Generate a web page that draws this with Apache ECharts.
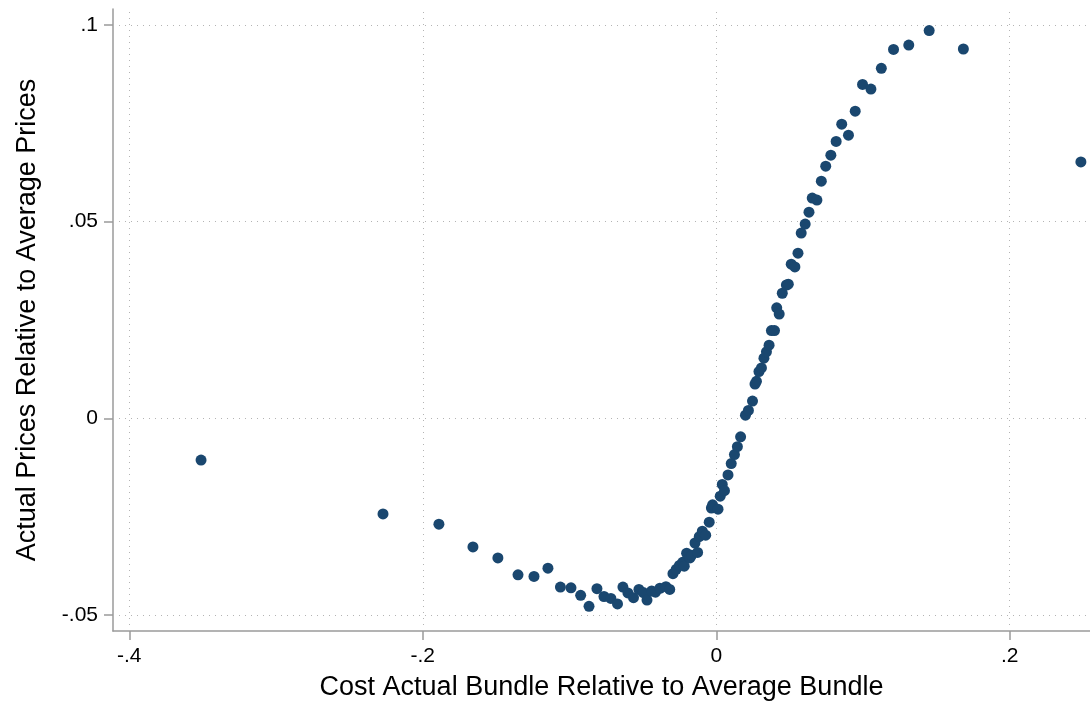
<!DOCTYPE html>
<html>
<head>
<meta charset="utf-8">
<script src="https://cdn.jsdelivr.net/npm/echarts@6/dist/echarts.min.js"></script>
<style>
html,body{margin:0;padding:0;background:#fff;}
#chart{width:1090px;height:708px;}
</style>
</head>
<body>
<div id="chart"></div>
<script>
// Cost of actual bundle relative to average bundle (x)
var costX = [
-0.3511,-0.2271,-0.1890,-0.1658,-0.1488,-0.1351,-0.1242,-0.1147,-0.1062,-0.0990,
-0.0924,-0.0867,-0.0813,-0.0765,-0.0718,-0.0673,-0.0636,-0.0602,-0.0564,-0.0527,
-0.0497,-0.0472,-0.0440,-0.0414,-0.0384,-0.0343,-0.0317,-0.0295,-0.0273,-0.0251,
-0.0229,-0.0218,-0.0202,-0.0179,-0.0168,-0.0145,-0.0127,-0.0116,-0.0095,-0.0072,
-0.0048,-0.0033,-0.0025,0.0012,0.0027,0.0041,0.0056,0.0080,0.0102,0.0124,
0.0144,0.0166,0.0199,0.0219,0.0247,0.0264,0.0274,0.0291,0.0308,0.0325,
0.0342,0.0360,0.0376,0.0397,0.0412,0.0429,0.0450,0.0478,0.0491,0.0511,
0.0536,0.0557,0.0579,0.0606,0.0632,0.0654,0.0686,0.0716,0.0746,0.0781,
0.0817,0.0855,0.0901,0.0947,0.0997,0.1054,0.1125,0.1208,0.1312,0.1451,
0.1684,0.2485
];
// Actual prices relative to average prices (y)
var priceY = [
-0.0106,-0.0243,-0.0269,-0.0327,-0.0355,-0.0398,-0.0402,-0.0381,-0.0429,-0.0431,
-0.0450,-0.0478,-0.0433,-0.0453,-0.0458,-0.0472,-0.0429,-0.0444,-0.0456,-0.0435,
-0.0443,-0.0462,-0.0439,-0.0442,-0.0432,-0.0428,-0.0435,-0.0395,-0.0384,-0.0374,
-0.0366,-0.0376,-0.0343,-0.0355,-0.0348,-0.0317,-0.0341,-0.0301,-0.0287,-0.0297,
-0.0264,-0.0228,-0.0220,-0.0231,-0.0198,-0.0168,-0.0184,-0.0144,-0.0115,-0.0092,
-0.0072,-0.0047,0.0008,0.0020,0.0044,0.0087,0.0094,0.0119,0.0128,0.0153,
0.0169,0.0186,0.0223,0.0223,0.0281,0.0265,0.0318,0.0339,0.0341,0.0392,
0.0385,0.0420,0.0471,0.0494,0.0524,0.0560,0.0555,0.0603,0.0641,0.0669,
0.0704,0.0748,0.0720,0.0781,0.0849,0.0837,0.0890,0.0938,0.0949,0.0986,
0.0939,0.0652
];
var xTicks = [-0.4, -0.2, 0, 0.2];
var xTickLabels = ['-.4', '-.2', '0', '.2'];
var yTicks = [-0.05, 0, 0.05, 0.1];
var yTickLabels = ['-.05', '0', '.05', '.1'];
var xTitle = 'Cost Actual Bundle Relative to Average Bundle';
var yTitle = 'Actual Prices Relative to Average Prices';

var points = costX.map(function (x, i) { return [x, priceY[i]]; });
function labelFor(ticks, labels) {
  return function (v) {
    for (var i = 0; i < ticks.length; i++) {
      if (Math.abs(ticks[i] - v) < 1e-9) return labels[i];
    }
    return '';
  };
}
var gridLineStyle = { color: '#b4b4b4', width: 1, type: [1, 5] };
var axisColor = '#9a9a9a';
var font = 'Liberation Sans, Arial, sans-serif';

var chart = echarts.init(document.getElementById('chart'), null, { renderer: 'canvas' });
chart.setOption({
  backgroundColor: '#ffffff',
  animation: false,
  grid: { left: 113, right: 0, top: 9, bottom: 77, containLabel: false },
  xAxis: {
    type: 'value',
    min: -0.4111, max: 0.2547,
    name: xTitle, nameLocation: 'middle', nameGap: 43,
    nameTextStyle: { fontFamily: font, fontSize: 27, color: '#000' },
    axisLine: { show: true, onZero: false, lineStyle: { color: axisColor, width: 1.5 } },
    axisTick: { show: true, length: 9, customValues: xTicks, lineStyle: { color: axisColor, width: 1.5 } },
    axisLabel: { customValues: xTicks, formatter: labelFor(xTicks, xTickLabels), fontFamily: font, fontSize: 21, color: '#000', margin: 15 },
    splitLine: { show: false }
  },
  yAxis: {
    type: 'value',
    min: -0.05407, max: 0.10407,
    name: yTitle, nameLocation: 'middle', nameGap: 72,
    nameTextStyle: { fontFamily: font, fontSize: 27, color: '#000' },
    axisLine: { show: true, onZero: false, lineStyle: { color: axisColor, width: 1.5 } },
    axisTick: { show: true, length: 9, customValues: yTicks, lineStyle: { color: axisColor, width: 1.5 } },
    axisLabel: { customValues: yTicks, formatter: labelFor(yTicks, yTickLabels), fontFamily: font, fontSize: 21, color: '#000', margin: 15 },
    splitLine: { show: false }
  },
  series: [
    {
      type: 'scatter', data: [], z: 1, silent: true,
      markLine: {
        silent: true, symbol: ['none', 'none'], label: { show: false },
        lineStyle: gridLineStyle, animation: false,
        data: xTicks.map(function (v) { return { xAxis: v }; })
          .concat(yTicks.map(function (v) { return { yAxis: v }; }))
      }
    },
    {
      type: 'scatter', data: points, z: 5, clip: false,
      symbol: 'circle', symbolSize: 11,
      itemStyle: { color: '#1a476f', opacity: 1 }
    }
  ]
});
</script>
</body>
</html>
